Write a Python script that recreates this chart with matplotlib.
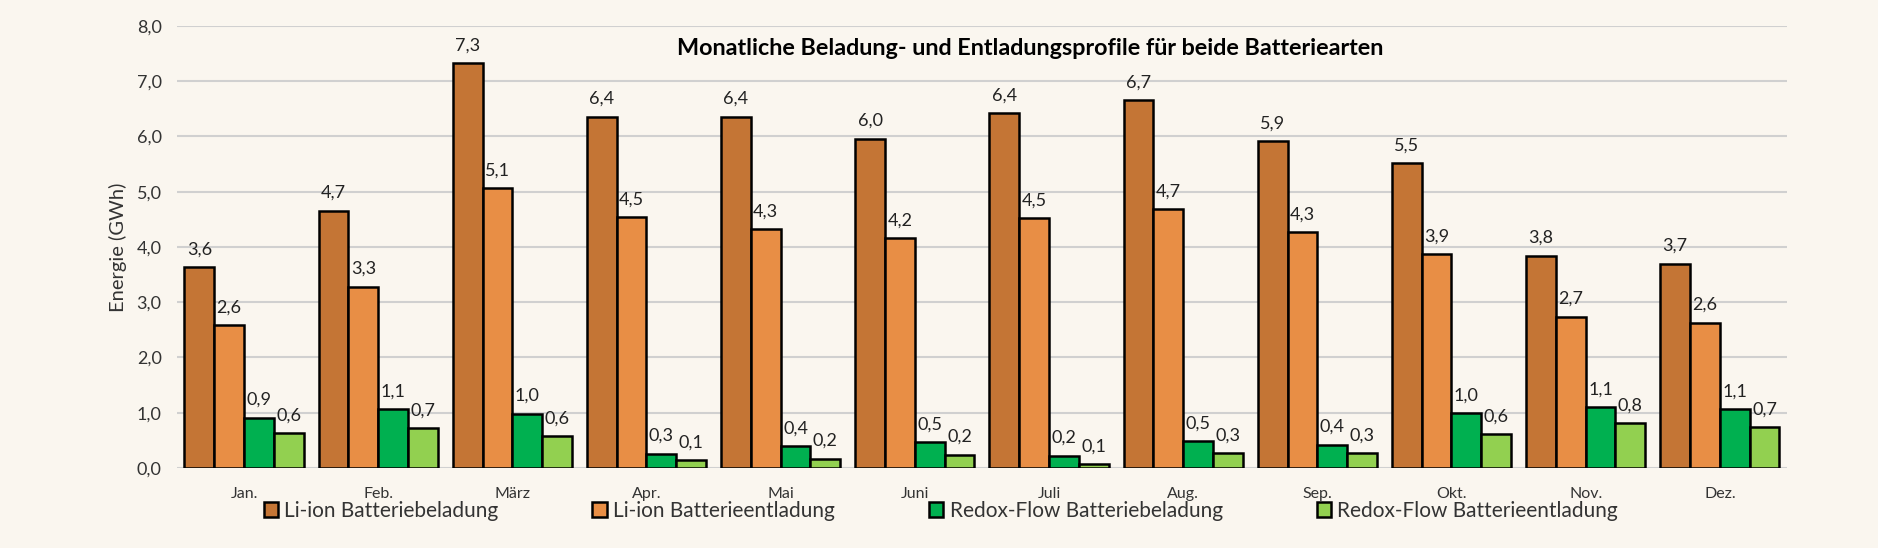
import matplotlib.pyplot as plt
import numpy as np

# Daten (GWh)
monate = ['Jan.', 'Feb.', 'März', 'Apr.', 'Mai', 'Juni', 'Juli', 'Aug.', 'Sep.', 'Okt.', 'Nov.', 'Dez.']
li_beladung = [3.63, 4.66, 7.33, 6.36, 6.36, 5.96, 6.42, 6.66, 5.92, 5.52, 3.84, 3.70]
li_entladung = [2.58, 3.28, 5.06, 4.54, 4.32, 4.16, 4.52, 4.68, 4.27, 3.87, 2.74, 2.63]
rf_beladung = [0.91, 1.07, 0.98, 0.26, 0.40, 0.47, 0.22, 0.49, 0.42, 0.99, 1.10, 1.06]
rf_entladung = [0.63, 0.72, 0.58, 0.14, 0.17, 0.24, 0.07, 0.27, 0.27, 0.61, 0.81, 0.74]

serien = ['Li-ion Batteriebeladung', 'Li-ion Batterieentladung',
          'Redox-Flow Batteriebeladung', 'Redox-Flow Batterieentladung']
farben = ['#C47535', '#E88E45', '#00B050', '#92D050']

bg = '#FAF6EF'
plt.rcParams['font.family'] = ['Lato', 'DejaVu Sans']

fig = plt.figure(figsize=(18.78, 5.48), dpi=100, facecolor=bg)
ax = fig.add_axes([0.0942, 0.146, 0.8573, 0.8066])
ax.set_facecolor(bg)

x = np.arange(len(monate))
breite = 0.222
for i, (werte, name, farbe) in enumerate(zip([li_beladung, li_entladung, rf_beladung, rf_entladung], serien, farben)):
    pos = x + (i - 1.5) * breite
    bars = ax.bar(pos, werte, breite, color=farbe, edgecolor='black', linewidth=1.8, label=name, zorder=3)
    ax.bar_label(bars, labels=[f'{v:.1f}'.replace('.', ',') for v in werte],
                 padding=7, fontsize=13, color='#222222')

ax.set_xlim(-0.5, 11.5)
ax.set_ylim(0, 8)
ax.set_yticks(np.arange(0, 9, 1))
ax.set_yticklabels([f'{v:.1f}'.replace('.', ',') for v in np.arange(0, 9, 1)], fontsize=13, color='#333333')
ax.set_xticks(x)
ax.set_xticklabels(monate, fontsize=11.5, color='#333333')
ax.tick_params(axis='both', length=0)
ax.tick_params(axis='y', pad=11)
ax.tick_params(axis='x', pad=14)
ax.grid(axis='y', color='#D0D0D0', linewidth=1.5, zorder=0)
for s in ax.spines.values():
    s.set_visible(False)

ax.set_ylabel('Energie (GWh)', fontsize=14.5, color='#333333', labelpad=7)

ax.text(0.53, 0.95, 'Monatliche Beladung- und Entladungsprofile für beide Batteriearten',
        transform=ax.transAxes, ha='center', va='center', fontsize=16.8, fontweight='bold')

fig.legend(loc='center', bbox_to_anchor=(0.501, 0.068), ncol=4, frameon=False,
           fontsize=15, handlelength=0.7, handleheight=0.7, handletextpad=0.3,
           columnspacing=4.5, labelcolor='#333333')

fig.savefig('out.png', dpi=100, facecolor=bg)
